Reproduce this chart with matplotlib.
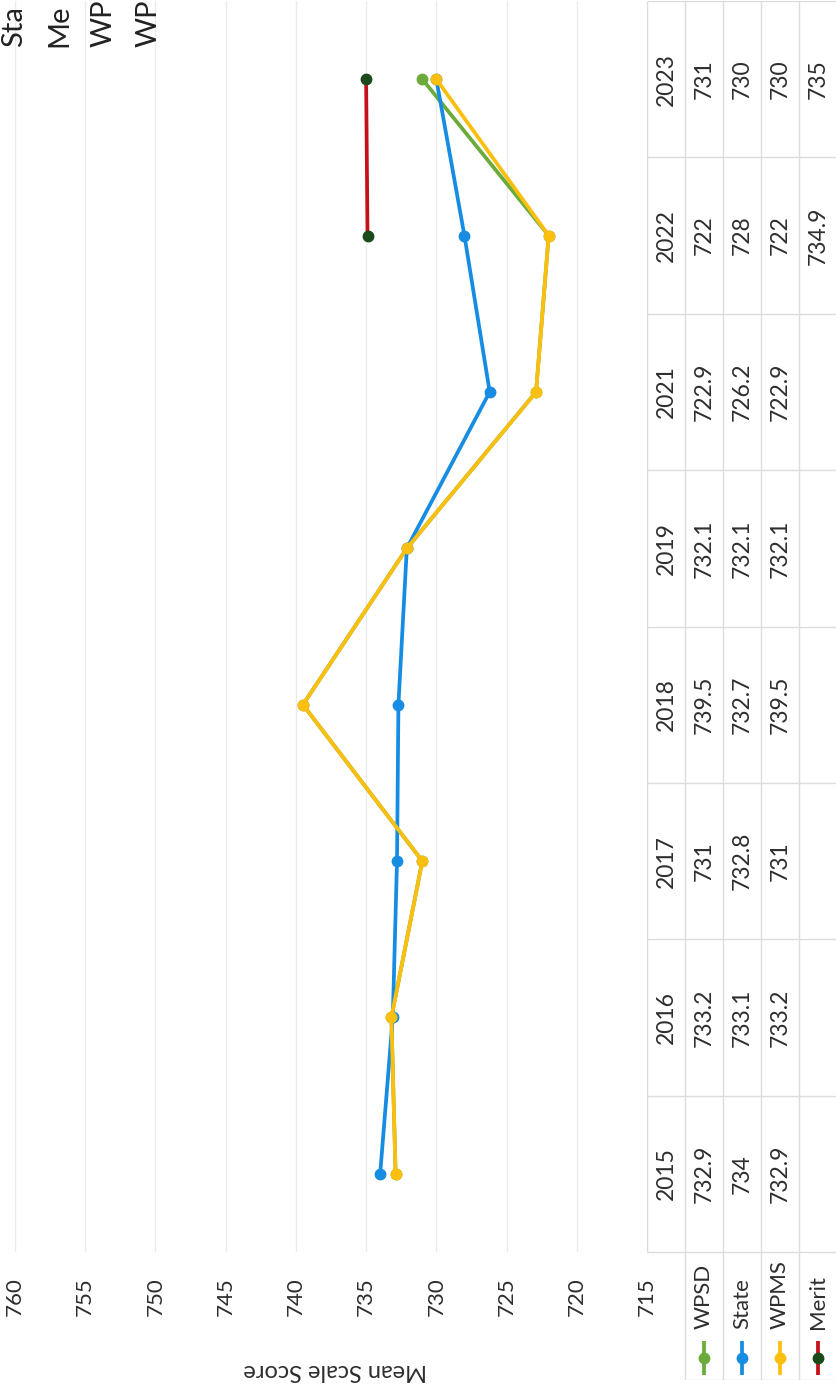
import matplotlib.pyplot as plt
import numpy as np

plt.rcParams["font.family"] = ["Lato", "DejaVu Sans"]

# data (chart is a scanned page turned on its side: values run right-to-left)
years = ["2015", "2016", "2017", "2018", "2019", "2021", "2022", "2023"]
wpsd = [732.9, 733.2, 731, 739.5, 732.1, 722.9, 722, 731]
state = [734, 733.1, 732.8, 732.7, 732.1, 726.2, 728, 730]
wpms = [732.9, 733.2, 731, 739.5, 732.1, 722.9, 722, 730]
merit = [np.nan, np.nan, np.nan, np.nan, np.nan, np.nan, 734.9, 735]
names = ["WPSD", "State", "WPMS", "Merit"]
value_ticks = [715, 720, 725, 730, 735, 740, 745, 750, 755, 760]
# only the visible start of the notes at the page corner
side_notes = ["Sta", "Me", "WP", "WP"]

# styles
GREEN = "#6aab3c"
BLUE = "#168de2"
YELLOW = "#fbbf0f"
RED = "#c41018"
DARK = "#1b4a1b"
LINE_C = "#dcdcdc"
GRID_C = "#ebebeb"
TXT = "#2e2e2e"

W, H = 836, 1388


def fx(px):
    return px / W


def fy(py):
    return 1 - py / H


fig = plt.figure(figsize=(W / 100, H / 100), dpi=100)

# main plot area
ax = fig.add_axes([fx(15), fy(1252), fx(647) - fx(15), fy(1) - fy(1252)])
ax.set_xlim(760, 715)
ax.set_ylim(-0.5, len(years) - 0.5)
ypos = np.arange(len(years))

lw, ms = 2.7, 7.5
ax.plot(wpsd, ypos, color=GREEN, lw=lw, marker="o", ms=ms, zorder=3)
ax.plot(state, ypos, color=BLUE, lw=lw, marker="o", ms=ms, zorder=4)
ax.plot(wpms, ypos, color=YELLOW, lw=lw, marker="o", ms=ms, zorder=5)
ax.plot(merit, ypos, color=RED, lw=lw, marker="o", ms=ms,
        mfc=DARK, mec=DARK, zorder=6)

for s in ax.spines.values():
    s.set_visible(False)
ax.set_yticks([])
ax.set_xticks(value_ticks)
ax.set_xticklabels([str(v) for v in value_ticks], rotation=90)
ax.tick_params(axis="x", length=0, pad=18, labelsize=16, labelcolor=TXT)
ax.grid(axis="x", color=GRID_C, lw=1)
ax.set_axisbelow(True)

fig.text(fx(335), fy(1370), "Mean Scale Score", rotation=180,
         ha="center", va="center", fontsize=17, color=TXT)

# data table to the right
cat_px = 1251 / len(years)
y_low = -0.5 - 128 / cat_px
tab = fig.add_axes([fx(647), fy(1380), fx(837) - fx(647), fy(1) - fy(1380)])
tab.set_xlim(0, 5)
tab.set_ylim(y_low, len(years) - 0.5)
tab.axis("off")

for r in range(5):
    tab.vlines(r, -0.5 if r == 0 else y_low, len(years) - 0.5,
               color=LINE_C, lw=1)
for k in range(len(years) + 1):
    tab.hlines(k - 0.5, 0, 5, color=LINE_C, lw=1)
tab.hlines(y_low, 1, 5, color=LINE_C, lw=1)

for i, yr in enumerate(years):
    tab.text(0.5, i, yr, rotation=90, ha="center", va="center",
             fontsize=16.5, color=TXT)
for r, vals in enumerate([wpsd, state, wpms, merit], start=1):
    for i, v in enumerate(vals):
        if np.isnan(v):
            continue
        tab.text(r + 0.5, i, f"{v:g}", rotation=90, ha="center",
                 va="center", fontsize=16.5, color=TXT)

# legend keys inside the table
key_y = -0.5 - 106 / cat_px
key_h = 17 / cat_px
key_styles = [(GREEN, GREEN), (BLUE, BLUE), (YELLOW, YELLOW), (RED, DARK)]
for r, (name, (lc, mc)) in enumerate(zip(names, key_styles), start=1):
    tab.plot([r + 0.5, r + 0.5], [key_y - key_h, key_y + key_h],
             color=lc, lw=lw, solid_capstyle="butt")
    tab.plot([r + 0.5], [key_y], marker="o", ms=ms, color=mc)
    tab.text(r + 0.5, -0.5 - 77 / cat_px, name, rotation=90, ha="center",
             va="bottom", fontsize=16, color=TXT)

# notes at the page corner
for k, note in enumerate(side_notes):
    fig.text(fx(22 + 45 * k), fy(47), note, rotation=90,
             rotation_mode="anchor", ha="left", va="baseline",
             fontsize=21, color="#222222")

fig.savefig("out.png", dpi=100, facecolor="white")
